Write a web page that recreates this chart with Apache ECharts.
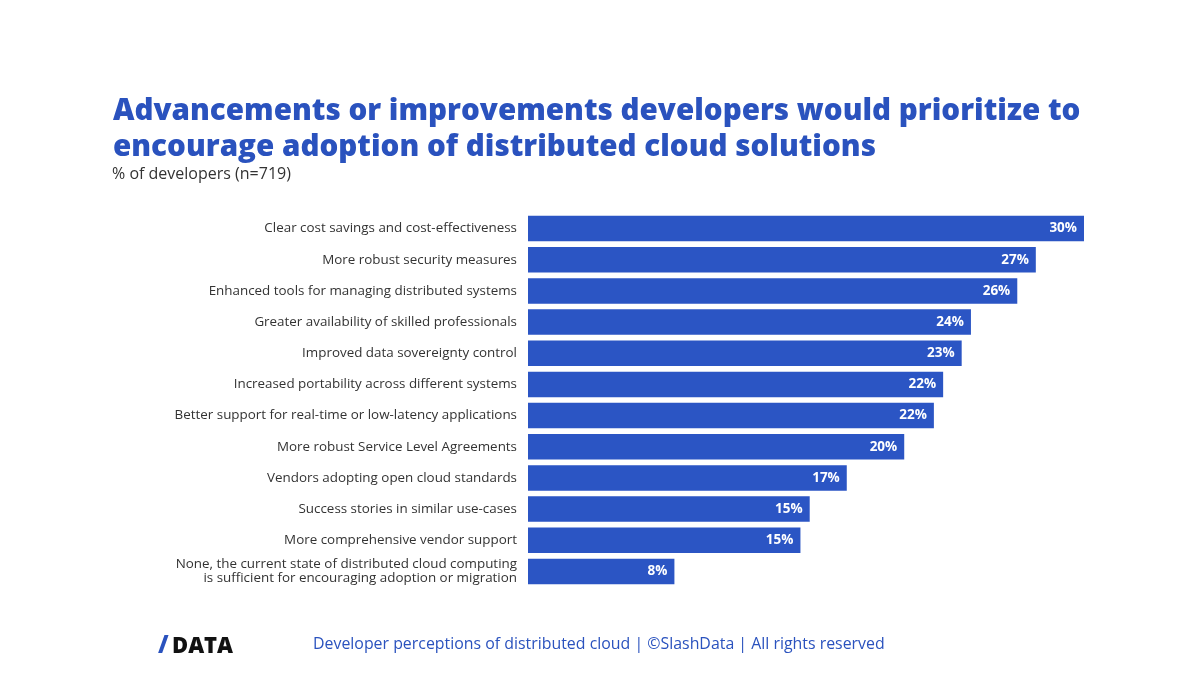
<!DOCTYPE html>
<html><head><meta charset="utf-8">
<script src="https://cdn.jsdelivr.net/npm/echarts@6/dist/echarts.min.js"></script>
<style>html,body{margin:0;padding:0;background:#fff}#c{width:1200px;height:675px}</style>
</head><body><div id="c"></div>
<script>
const categories = [
  "Clear cost savings and cost-effectiveness",
  "More robust security measures",
  "Enhanced tools for managing distributed systems",
  "Greater availability of skilled professionals",
  "Improved data sovereignty control",
  "Increased portability across different systems",
  "Better support for real-time or low-latency applications",
  "More robust Service Level Agreements",
  "Vendors adopting open cloud standards",
  "Success stories in similar use-cases",
  "More comprehensive vendor support",
  "None, the current state of distributed cloud computing\nis sufficient for encouraging adoption or migration"
];
const values = [30.0, 27.4, 26.4, 23.9, 23.4, 22.4, 21.9, 20.3, 17.2, 15.2, 14.7, 7.9];
const titleText = "Advancements or improvements developers would prioritize to\nencourage adoption of distributed cloud solutions";
const subtitleText = "% of developers (n=719)";
const footerText = "Developer perceptions of distributed cloud | \u00A9SlashData | All rights reserved";

const BLUE = "#2b55c4";
const chart = echarts.init(document.getElementById('c'));
chart.setOption({
  backgroundColor: '#fff',
  animation: false,
  title: {
    text: titleText,
    left: 108, top: 88,
    textStyle: {fontFamily: 'Open Sans', fontWeight: 800, fontSize: 29.6, lineHeight: 36.5, color: '#2a52be'}
  },
  grid: {left: 528, top: 213, width: 556, height: 374, containLabel: false},
  xAxis: {type: 'value', min: 0, max: 30, show: false},
  yAxis: {
    type: 'category', data: categories, inverse: true,
    axisLine: {show: false}, axisTick: {show: false},
    axisLabel: {margin: 11, fontFamily: 'Open Sans', fontSize: 13.4, color: '#333', lineHeight: 14, align: 'right'}
  },
  series: [{
    type: 'bar', data: values, barCategoryGap: '18%',
    itemStyle: {color: BLUE},
    label: {show: true, position: 'insideRight', distance: 7, color: '#fff',
      fontFamily: 'Open Sans', fontWeight: 'bold', fontSize: 13.5,
      formatter: p => Math.round(p.value) + '%'}
  }],
  graphic: [
    {type: 'text', left: 112, top: 166, style: {
      text: subtitleText, fontFamily: 'Open Sans', fontSize: 16, fill: '#333'}},
    {type: 'text', left: 158, top: 634, style: {
      text: '/', fontFamily: 'Open Sans', fontWeight: 900, fontSize: 24, fill: '#2a52be'}},
    {type: 'text', left: 172, top: 636, style: {
      text: 'DATA', fontFamily: 'Open Sans', fontWeight: 800, fontSize: 22, fill: '#111', textLetterSpacing: 1}},
    {type: 'text', left: 313, top: 636, style: {
      text: footerText, fontFamily: 'Open Sans', fontSize: 15.9, fill: '#2a52be'}}
  ]
});
</script></body></html>
